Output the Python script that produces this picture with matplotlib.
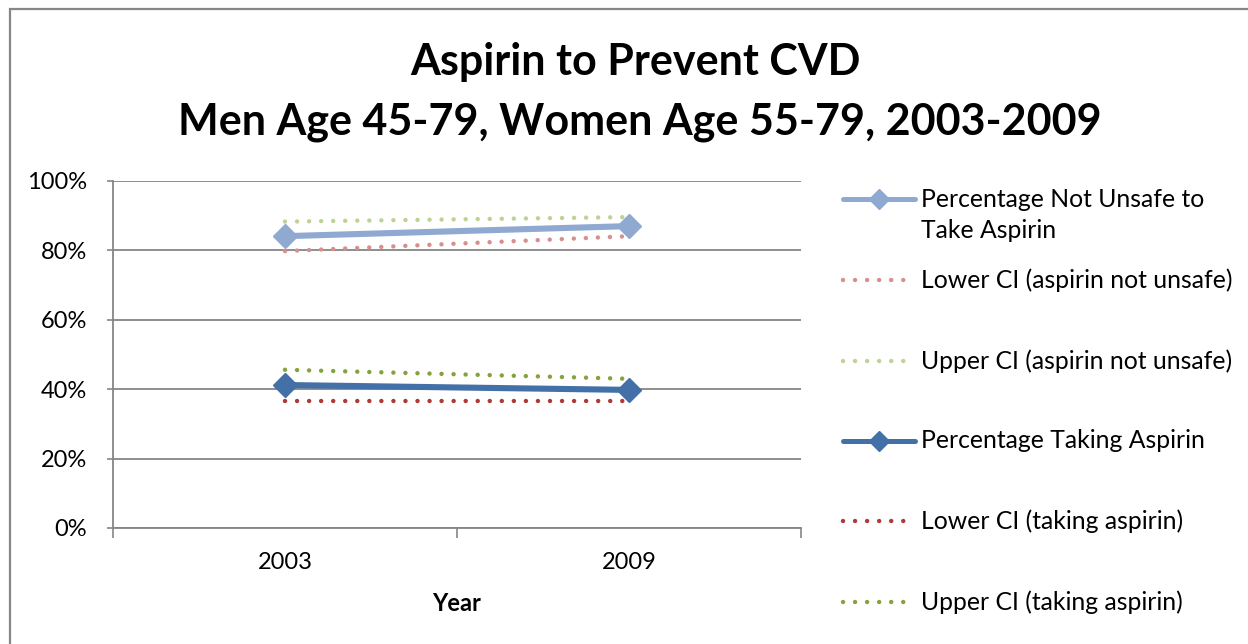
import matplotlib
matplotlib.use('Agg')
import matplotlib.pyplot as plt
from matplotlib.lines import Line2D
from matplotlib.patches import Rectangle
from matplotlib.ticker import PercentFormatter, FixedLocator

plt.rcParams['font.family'] = ['Lato', 'DejaVu Sans']

years = ['2003', '2009']
not_unsafe = [84.1, 87.0]
not_unsafe_lo = [79.8, 84.1]
not_unsafe_hi = [88.3, 89.6]
taking = [41.2, 39.8]
taking_lo = [36.6, 36.6]
taking_hi = [45.6, 43.0]

labels = ['Percentage Not Unsafe to\nTake Aspirin',
          'Lower CI (aspirin not unsafe)',
          'Upper CI (aspirin not unsafe)',
          'Percentage Taking Aspirin',
          'Lower CI (taking aspirin)',
          'Upper CI (taking aspirin)']

W, H = 1248, 644
fig = plt.figure(figsize=(W / 100, H / 100), dpi=100)
ax = fig.add_axes([113 / W, (H - 528) / H, (801 - 113) / W, (528 - 181) / H])

grey = '#868686'
dot = dict(linewidth=3.2, linestyle=(0, (0.01, 2.7)), dash_capstyle='round')
solid = dict(linewidth=4.4, marker='D', markersize=12, solid_capstyle='round')

x = range(len(years))
series = [
    (not_unsafe_hi, '#BDD296', dot),
    (not_unsafe_lo, '#D68F8D', dot),
    (not_unsafe, '#8FA9D1', solid),
    (taking_hi, '#84A23E', dot),
    (taking_lo, '#AE3A38', dot),
    (taking, '#4470A8', solid),
]
for vals, col, st in series:
    ax.plot(x, vals, color=col, zorder=3, **st)

ax.set_xlim(-0.5, 1.5)
ax.set_ylim(0, 100)
ax.yaxis.set_major_locator(FixedLocator([0, 20, 40, 60, 80, 100]))
ax.yaxis.set_major_formatter(PercentFormatter(decimals=0))
ax.set_xticks([0, 1])
ax.set_xticklabels(years)
ax.set_xticks([-0.5, 0.5, 1.5], minor=True)
ax.tick_params(axis='x', which='major', length=0, pad=17, labelsize=17)
ax.tick_params(axis='x', which='minor', length=7, width=1.2, color=grey, direction='out')
ax.tick_params(axis='y', length=4.5, width=1.2, color=grey, direction='out', labelsize=17, pad=14)
ax.grid(axis='y', color=grey, linewidth=1.3)
ax.set_axisbelow(True)
for side in ['top', 'right']:
    ax.spines[side].set_visible(False)
for side in ['left', 'bottom']:
    ax.spines[side].set_color(grey)
    ax.spines[side].set_linewidth(1.3)
ax.set_xlabel('Year', fontsize=17, fontweight='bold', labelpad=14)

fig.text(635 / W, 1 - 62 / H, 'Aspirin to Prevent CVD', ha='center', va='center',
         fontsize=31, fontweight='bold')
fig.text(640 / W, 1 - 122 / H, 'Men Age 45-79, Women Age 55-79, 2003-2009', ha='center',
         va='center', fontsize=31, fontweight='bold')

# outer chart border
fig.add_artist(Rectangle((10 / W, -0.1), 1.2, (H - 9) / H + 0.1, transform=fig.transFigure,
                         fill=False, edgecolor=grey, linewidth=1.6))

# legend, drawn entry by entry
leg_order = [2, 1, 0, 5, 4, 3]
leg_y = [199, 280, 361, 441, 521, 602]
for i, (idx, ly) in enumerate(zip(leg_order, leg_y)):
    vals, col, st = series[idx]
    yy = 1 - ly / H
    if st is solid:
        fig.add_artist(Line2D([843 / W, 915 / W], [yy, yy], transform=fig.transFigure,
                              color=col, linewidth=3.6, solid_capstyle='round'))
        fig.add_artist(Line2D([879 / W], [yy], transform=fig.transFigure, color=col,
                              marker='D', markersize=10))
    else:
        fig.add_artist(Line2D([843 / W, 908 / W], [yy, yy], transform=fig.transFigure,
                              color=col, **dot))
    ty = yy
    if '\n' in labels[i]:
        ty = 1 - (ly + 16) / H
    fig.text(921 / W, ty, labels[i], ha='left', va='center', fontsize=17.8, linespacing=1.42)

fig.savefig('out.png', dpi=100)
